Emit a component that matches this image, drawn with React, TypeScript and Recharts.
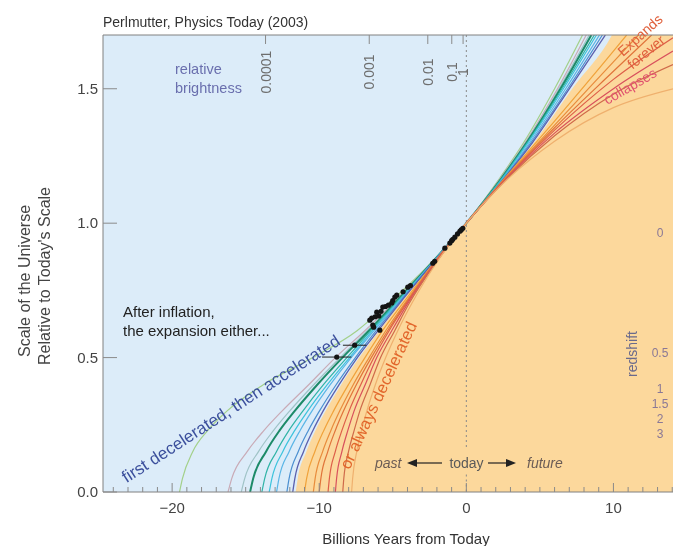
import React from 'react';
import {
  ComposedChart,
  XAxis,
  YAxis,
  CartesianGrid,
  Line,
  Area,
  Scatter,
  ErrorBar,
  ReferenceLine,
} from 'recharts';

type Pt = [number, number];

const FONT = '"Liberation Sans", Arial, Helvetica, sans-serif';

// scale of the universe at which the past part of every curve is sampled
const pastScale = [0, 0.05, 0.15, 0.23, 0.3, 0.4, 0.5, 0.6, 0.7, 0.85, 1];

// time (Gyr from today) at each pastScale level
const pastC1 = [-19.5, -19.3, -18.6, -17.56, -16.3, -13.78, -10.44, -7.43, -5.32, -2.44, 0];
const pastC2 = [-16.2, -15.95, -14.9, -13.74, -12.55, -10.7, -8.9, -6.9, -5.05, -2.42, 0];
const pastC3 = [-15.3, -15.07, -14.13, -13.09, -12.03, -10.36, -8.57, -6.74, -4.98, -2.4, 0];
const pastC4 = [-14.7, -14.49, -13.62, -12.68, -11.69, -10.12, -8.42, -6.62, -4.92, -2.39, 0];
const pastC5 = [-13.9, -13.71, -12.91, -12.05, -11.13, -9.7, -8.12, -6.5, -4.84, -2.37, 0];
const pastC6 = [-13.4, -13.22, -12.48, -11.65, -10.8, -9.44, -7.94, -6.38, -4.77, -2.36, 0];
const pastC7 = [-12.9, -12.74, -12.05, -11.29, -10.51, -9.24, -7.83, -6.27, -4.7, -2.34, 0];
const pastC8 = [-12.2, -12.05, -11.43, -10.73, -10.0, -8.84, -7.54, -6.13, -4.64, -2.32, 0];
const pastC9 = [-11.8, -11.66, -11.07, -10.42, -9.75, -8.64, -7.41, -6.0, -4.56, -2.3, 0];
const pastEdge = [-11.6, -11.46, -10.88, -10.25, -9.58, -8.5, -7.28, -5.92, -4.5, -2.28, 0];
const pastO1 = [-11.0, -10.86, -10.3, -9.68, -9.04, -8.01, -6.89, -5.7, -4.35, -2.24, 0];
const pastO2 = [-10.4, -10.28, -9.77, -9.2, -8.62, -7.68, -6.61, -5.48, -4.21, -2.22, 0];
const pastO3 = [-10.0, -9.89, -9.42, -8.9, -8.36, -7.47, -6.46, -5.35, -4.14, -2.2, 0];
const pastO4 = [-9.4, -9.31, -8.91, -8.45, -7.98, -7.17, -6.28, -5.25, -4.08, -2.17, 0];
const pastO5 = [-8.9, -8.82, -8.46, -8.05, -7.64, -6.87, -6.09, -5.07, -4.0, -2.13, 0];
const pastO6 = [-8.4, -8.33, -8.01, -7.62, -7.25, -6.54, -5.83, -4.87, -3.9, -2.1, 0];
const pastO7 = [-7.8, -7.73, -7.45, -7.12, -6.77, -6.18, -5.48, -4.66, -3.72, -2.06, 0];

// future parts: [Gyr from today, scale]
const futureC1: Pt[] = [[2.3, 1.17], [3.9, 1.3], [6.0, 1.5], [7.9, 1.7]];
const futureC2: Pt[] = [[2.35, 1.17], [4.0, 1.3], [6.2, 1.5], [8.15, 1.7]];
const futureC3: Pt[] = [[2.35, 1.168], [4.05, 1.3], [6.3, 1.5], [8.35, 1.7]];
const futureC4: Pt[] = [[2.4, 1.168], [4.1, 1.3], [6.4, 1.5], [8.5, 1.7]];
const futureC5: Pt[] = [[2.4, 1.166], [4.15, 1.3], [6.5, 1.5], [8.7, 1.7]];
const futureC6: Pt[] = [[2.45, 1.166], [4.2, 1.3], [6.6, 1.5], [8.85, 1.7]];
const futureC7: Pt[] = [[2.5, 1.165], [4.3, 1.3], [6.75, 1.5], [9.05, 1.7]];
const futureC8: Pt[] = [[2.5, 1.163], [4.4, 1.3], [6.9, 1.5], [9.25, 1.7]];
const futureC9: Pt[] = [[2.5, 1.162], [4.5, 1.3], [7.0, 1.5], [9.45, 1.7]];
const futureEdge: Pt[] = [[2.5, 1.16], [4.6, 1.3], [7.2, 1.5], [9.9, 1.7], [14.05, 2.3]];
const futureO1: Pt[] = [[2.5, 1.16], [6, 1.38], [10, 1.64], [10.9, 1.7]];
const futureO2: Pt[] = [[2.5, 1.158], [6, 1.365], [10, 1.6], [11.7, 1.7]];
const futureO3: Pt[] = [[2.5, 1.156], [6, 1.355], [10, 1.565], [12.6, 1.7]];
const futureO4: Pt[] = [[2.5, 1.154], [6, 1.346], [10, 1.535], [14.05, 1.69]];
const futureO5: Pt[] = [[2.5, 1.152], [6, 1.335], [10, 1.5], [14.05, 1.64]];
const futureO6: Pt[] = [[2.5, 1.15], [6, 1.325], [10, 1.48], [14.05, 1.59]];
const futureO7: Pt[] = [[2.5, 1.148], [6, 1.305], [10, 1.43], [14.05, 1.5]];

// supernova points [Gyr, scale]
const supernovae: Pt[] = [
  [-0.24, 0.981], [-0.35, 0.975], [-0.44, 0.97], [-0.6, 0.96], [-0.78, 0.948],
  [-0.92, 0.94], [-1.0, 0.935], [-1.12, 0.926], [-1.46, 0.907], [-2.15, 0.858],
  [-2.28, 0.851], [-3.8, 0.768], [-3.98, 0.762], [-4.3, 0.745], [-4.73, 0.732],
  [-4.86, 0.725], [-5.0, 0.712], [-5.07, 0.703], [-5.3, 0.695], [-5.5, 0.69],
  [-5.68, 0.688], [-5.8, 0.672], [-6.09, 0.669], [-5.95, 0.655], [-6.2, 0.652],
  [-6.43, 0.647], [-6.56, 0.639], [-6.36, 0.621], [-6.3, 0.613], [-5.88, 0.602],
];
const distantSupernovae: Pt[] = [[-7.59, 0.546], [-8.81, 0.502]];
const distantErrors = [0.8, 1.0];

const yearTicks = Array.from({ length: 39 }, (_, i) => i - 24);
const scaleTicks = [0, 0.5, 1, 1.5];
const brightnessLabels = ['0.0001', '0.001', '0.01', '0.1', '1'];
const brightnessTimes = [-13.65, -6.6, -2.62, -0.99, -0.22];
const redshiftLabels = ['0', '0.5', '1', '1.5', '2', '3'];

const toSeries = (times: number[], future: Pt[]) =>
  pastScale
    .map((a, i) => ({ t: times[i], a }))
    .concat(future.map(([t, a]) => ({ t, a })));

const curves = [
  { id: 'c1', data: toSeries(pastC1, futureC1), color: '#a3d08a', w: 1.2 },
  { id: 'c2', data: toSeries(pastC2, futureC2), color: '#c9aab6', w: 1.2 },
  { id: 'c3', data: toSeries(pastC3, futureC3), color: '#9fc3c6', w: 1.2 },
  { id: 'c4', data: toSeries(pastC4, futureC4), color: '#1d8a68', w: 2 },
  { id: 'c5', data: toSeries(pastC5, futureC5), color: '#2fb3a6', w: 1.2 },
  { id: 'c6', data: toSeries(pastC6, futureC6), color: '#3cc3dc', w: 1.2 },
  { id: 'c7', data: toSeries(pastC7, futureC7), color: '#5ab5e6', w: 1.2 },
  { id: 'c8', data: toSeries(pastC8, futureC8), color: '#4b8fd0', w: 1.2 },
  { id: 'c9', data: toSeries(pastC9, futureC9), color: '#5b60ae', w: 1.3 },
  { id: 'o1', data: toSeries(pastO1, futureO1), color: '#f0a23a', w: 1.2 },
  { id: 'o2', data: toSeries(pastO2, futureO2), color: '#e88c3c', w: 1.2 },
  { id: 'o3', data: toSeries(pastO3, futureO3), color: '#e0743a', w: 1.2 },
  { id: 'o4', data: toSeries(pastO4, futureO4), color: '#dd5e48', w: 1.2 },
  { id: 'o5', data: toSeries(pastO5, futureO5), color: '#d8505c', w: 1.2 },
  { id: 'o6', data: toSeries(pastO6, futureO6), color: '#cf6a4a', w: 1.2 },
  { id: 'o7', data: toSeries(pastO7, futureO7), color: '#efb06e', w: 1.2 },
];

const edgeData = toSeries(pastEdge, futureEdge);
const snData = supernovae.map(([t, a]) => ({ t, a }));
const snFarData = distantSupernovae.map(([t, a], i) => ({ t, a, err: distantErrors[i] }));

const BottomTick = (props: any) => {
  const { x, y, payload } = props;
  const v = payload.value as number;
  const major = v % 10 === 0;
  return (
    <g>
      <line x1={x} x2={x} y1={y} y2={y - (major ? 9 : 5)} stroke="#8a8a8a" />
      {major && (
        <text x={x} y={y + 21} textAnchor="middle" fontSize={15} fill="#444" fontFamily={FONT}>
          {v < 0 ? `\u2212${-v}` : `${v}`}
        </text>
      )}
    </g>
  );
};

const LeftTick = (props: any) => {
  const { x, y, payload } = props;
  return (
    <g>
      <line x1={x} x2={x + 14} y1={y} y2={y} stroke="#8a8a8a" />
      <text x={x - 5} y={y + 5} textAnchor="end" fontSize={15} fill="#444" fontFamily={FONT}>
        {(payload.value as number).toFixed(1)}
      </text>
    </g>
  );
};

const TopTick = (props: any) => {
  const { x, y, payload } = props;
  const i = brightnessTimes.indexOf(payload.value);
  return (
    <g>
      <line x1={x} x2={x} y1={y} y2={y + 9} stroke="#8a8a8a" />
      <text
        x={x + 5}
        y={y + 37}
        transform={`rotate(-90 ${x + 5} ${y + 37})`}
        textAnchor="middle"
        fontSize={14}
        fill="#6e6e6e"
        fontFamily={FONT}
      >
        {brightnessLabels[i]}
      </text>
    </g>
  );
};

const SnDot = (p: any) => <circle cx={p.cx} cy={p.cy} r={2.6} fill="#141414" />;

const redshiftY = [225, 345, 381, 396, 411, 426];

function Annotations() {
  return (
    <svg
      width={665}
      height={538}
      style={{ position: 'absolute', left: 0, top: 0, pointerEvents: 'none' }}
      fontFamily={FONT}
    >
      <text x={95} y={19} fontSize={14} fill="#333">Perlmutter, Physics Today (2003)</text>

      <text x={167} y={66} fontSize={14.5} fill="#6a6fae">relative</text>
      <text x={167} y={85} fontSize={14.5} fill="#6a6fae">brightness</text>

      <text x={115} y={309} fontSize={15} fill="#222">After inflation,</text>
      <text x={115} y={328} fontSize={15} fill="#222">the expansion either...</text>

      <text x={223} y={401} fontSize={17} fill="#3b4f9c" textAnchor="middle" dominantBaseline="central" transform="rotate(-33 223 401)">
        first decelerated, then accelerated
      </text>
      <text x={370} y={387} fontSize={16.5} fill="#e2672c" textAnchor="middle" dominantBaseline="central" transform="rotate(-65 370 387)">
        or always decelerated
      </text>

      <text x={632} y={27} fontSize={14} fill="#e0603c" textAnchor="middle" dominantBaseline="central" transform="rotate(-42 632 27)">Expands</text>
      <text x={638} y={44} fontSize={14} fill="#e0603c" textAnchor="middle" dominantBaseline="central" transform="rotate(-40 638 44)">forever</text>
      <text x={622} y={78} fontSize={14} fill="#e0506e" textAnchor="middle" dominantBaseline="central" transform="rotate(-30 622 78)">collapses</text>

      {redshiftLabels.map((r, i) => (
        <text key={r} x={652} y={redshiftY[i]} fontSize={12} fill="#8a7896" textAnchor="middle" dominantBaseline="central">
          {r}
        </text>
      ))}
      <text x={624} y={346} fontSize={14} fill="#6a6a8c" textAnchor="middle" dominantBaseline="central" transform="rotate(-90 624 346)">
        redshift
      </text>

      <text x={367} y={460} fontSize={14} fill="#6b5c55" fontStyle="italic">past</text>
      <line x1={406} x2={434} y1={455} y2={455} stroke="#222" strokeWidth={1.2} />
      <polygon points="399,455 409,451 409,459" fill="#222" />
      <text x={458.5} y={460} fontSize={14} fill="#5a5a5a" textAnchor="middle">today</text>
      <line x1={480} x2={501} y1={455} y2={455} stroke="#222" strokeWidth={1.2} />
      <polygon points="508,455 498,451 498,459" fill="#222" />
      <text x={519} y={460} fontSize={14} fill="#6b5c55" fontStyle="italic">future</text>

      <text x={22} y={273} fontSize={16} fill="#444" textAnchor="middle" transform="rotate(-90 22 273)">
        Scale of the Universe
      </text>
      <text x={42} y={268} fontSize={16} fill="#444" textAnchor="middle" transform="rotate(-90 42 268)">
        Relative to Today's Scale
      </text>
      <text x={398} y={536} fontSize={15} fill="#333" textAnchor="middle">Billions Years from Today</text>
    </svg>
  );
}

export default function App() {
  return (
    <div style={{ position: 'fixed', left: 0, top: 0, width: 673, height: 546, overflow: 'hidden' }}>
      <div style={{ position: 'absolute', left: 8, top: 8, width: 665, height: 538 }}>
        <ComposedChart width={665} height={538} margin={{ top: 0, right: 0, bottom: 0, left: 0 }}>
          <CartesianGrid horizontal={false} vertical={false} fill="#dcecf9" stroke="none" />
          <XAxis
            dataKey="t"
            type="number"
            domain={[-24.7, 14.05]}
            allowDataOverflow
            ticks={yearTicks}
            interval={0}
            tick={<BottomTick />}
            tickLine={false}
            tickSize={0}
            tickMargin={0}
            height={54}
            axisLine={{ stroke: '#808080' }}
          />
          <XAxis
            xAxisId="top"
            orientation="top"
            dataKey="t"
            type="number"
            domain={[-24.7, 14.05]}
            allowDataOverflow
            ticks={brightnessTimes}
            interval={0}
            tick={<TopTick />}
            tickLine={false}
            tickSize={0}
            tickMargin={0}
            height={27}
            axisLine={{ stroke: '#808080' }}
          />
          <YAxis
            type="number"
            domain={[0, 1.7]}
            allowDataOverflow
            ticks={scaleTicks}
            interval={0}
            tick={<LeftTick />}
            tickLine={false}
            tickSize={0}
            tickMargin={0}
            width={95}
            axisLine={{ stroke: '#808080' }}
          />
          <Area
            data={edgeData}
            dataKey="a"
            type="monotoneX"
            fill="#fcd89c"
            fillOpacity={1}
            stroke="none"
            baseValue={0}
            isAnimationActive={false}
          />
          <ReferenceLine
            segment={[{ x: 0, y: 1.7 }, { x: 0, y: 0.16 }]}
            stroke="#8a8a8a"
            strokeDasharray="2 3"
          />
          <ReferenceLine
            segment={[{ x: 0, y: 0.065 }, { x: 0, y: 0 }]}
            stroke="#8a8a8a"
            strokeDasharray="2 3"
          />
          {curves.map((c) => (
            <Line
              key={c.id}
              data={c.data}
              dataKey="a"
              type="monotoneX"
              stroke={c.color}
              strokeWidth={c.w}
              dot={false}
              activeDot={false}
              isAnimationActive={false}
            />
          ))}
          <Scatter data={snData} dataKey="a" shape={SnDot} isAnimationActive={false} />
          <Scatter data={snFarData} dataKey="a" shape={SnDot} isAnimationActive={false}>
            <ErrorBar dataKey="err" direction="x" width={0} stroke="#222" strokeWidth={1} />
          </Scatter>
        </ComposedChart>
        <Annotations />
      </div>
    </div>
  );
}
